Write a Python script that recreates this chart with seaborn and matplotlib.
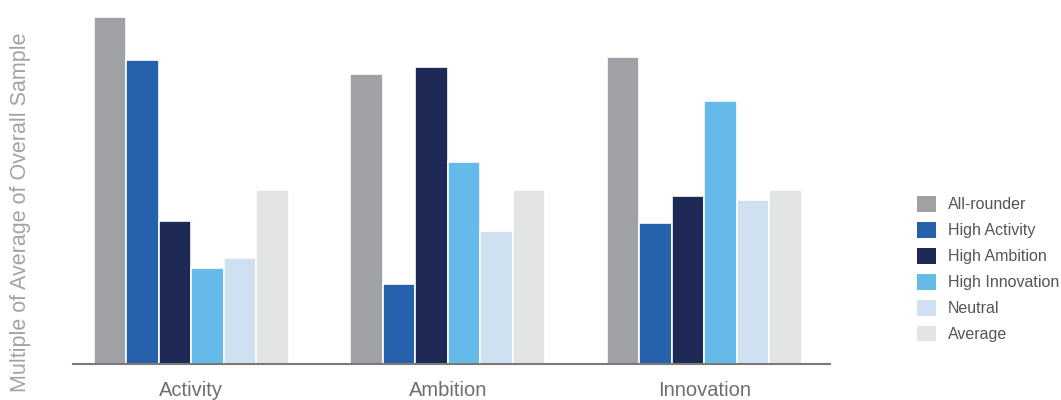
import matplotlib
matplotlib.use("Agg")
import matplotlib.pyplot as plt
import matplotlib.patches as mpatches
import seaborn as sns
import pandas as pd

# values (multiple of the overall-sample average)
categories = ["Activity", "Ambition", "Innovation"]
segments = ["All-rounder", "High Activity", "High Ambition", "High Innovation", "Neutral", "Average"]
all_rounder = [1.99, 1.66, 1.76]
high_activity = [1.74, 0.46, 0.81]
high_ambition = [0.82, 1.70, 0.96]
high_innovation = [0.55, 1.16, 1.51]
neutral = [0.61, 0.76, 0.94]
average = [1.00, 1.00, 1.00]

colors = ["#a0a1a5", "#2662ab", "#1f2956", "#65bae9", "#cfe0f1", "#e3e4e6"]

series = [all_rounder, high_activity, high_ambition, high_innovation, neutral, average]
rows = []
for seg, vals in zip(segments, series):
    for cat, v in zip(categories, vals):
        rows.append({"category": cat, "segment": seg, "value": v})
df = pd.DataFrame(rows)

sns.set_style("white")
plt.rcParams["font.family"] = ["Liberation Sans", "DejaVu Sans"]

fig = plt.figure(figsize=(10.61, 4.0), dpi=100)
ax = fig.add_axes([73 / 1061, 36 / 400, (830 - 73) / 1061, 364 / 400])

sns.barplot(data=df, x="category", y="value", hue="segment", order=categories,
            hue_order=segments, palette=colors, width=0.76, edgecolor="white",
            linewidth=1.2, saturation=1, ax=ax, legend=False)

ax.set_xlim(-0.46, 2.49)
ax.set_ylim(0, 2.086)
ax.set_yticks([])
ax.set_xlabel("")
ax.set_ylabel("")
for side in ["top", "right", "left"]:
    ax.spines[side].set_visible(False)
ax.spines["bottom"].set_color("#7a7a7a")
ax.spines["bottom"].set_linewidth(1.5)
ax.tick_params(axis="x", length=0, pad=12, labelsize=14.5, labelcolor="#6e6e6e")

fig.text(21 / 1061, 1 - 212 / 400, "Multiple of Average of Overall Sample", rotation=90,
         ha="center", va="center", fontsize=15.5, color="#a3a3a3")

handles = [mpatches.Patch(facecolor=c, edgecolor="none", label=s) for s, c in zip(segments, colors)]
fig.legend(handles=handles, loc="center left", bbox_to_anchor=(903 / 1061, 1 - 269 / 400),
           frameon=False, fontsize=11.5, handlelength=1.15, handleheight=1.15,
           labelspacing=0.6, handletextpad=0.75, labelcolor="#555555")

fig.savefig("out.png", dpi=100)
plt.close(fig)
